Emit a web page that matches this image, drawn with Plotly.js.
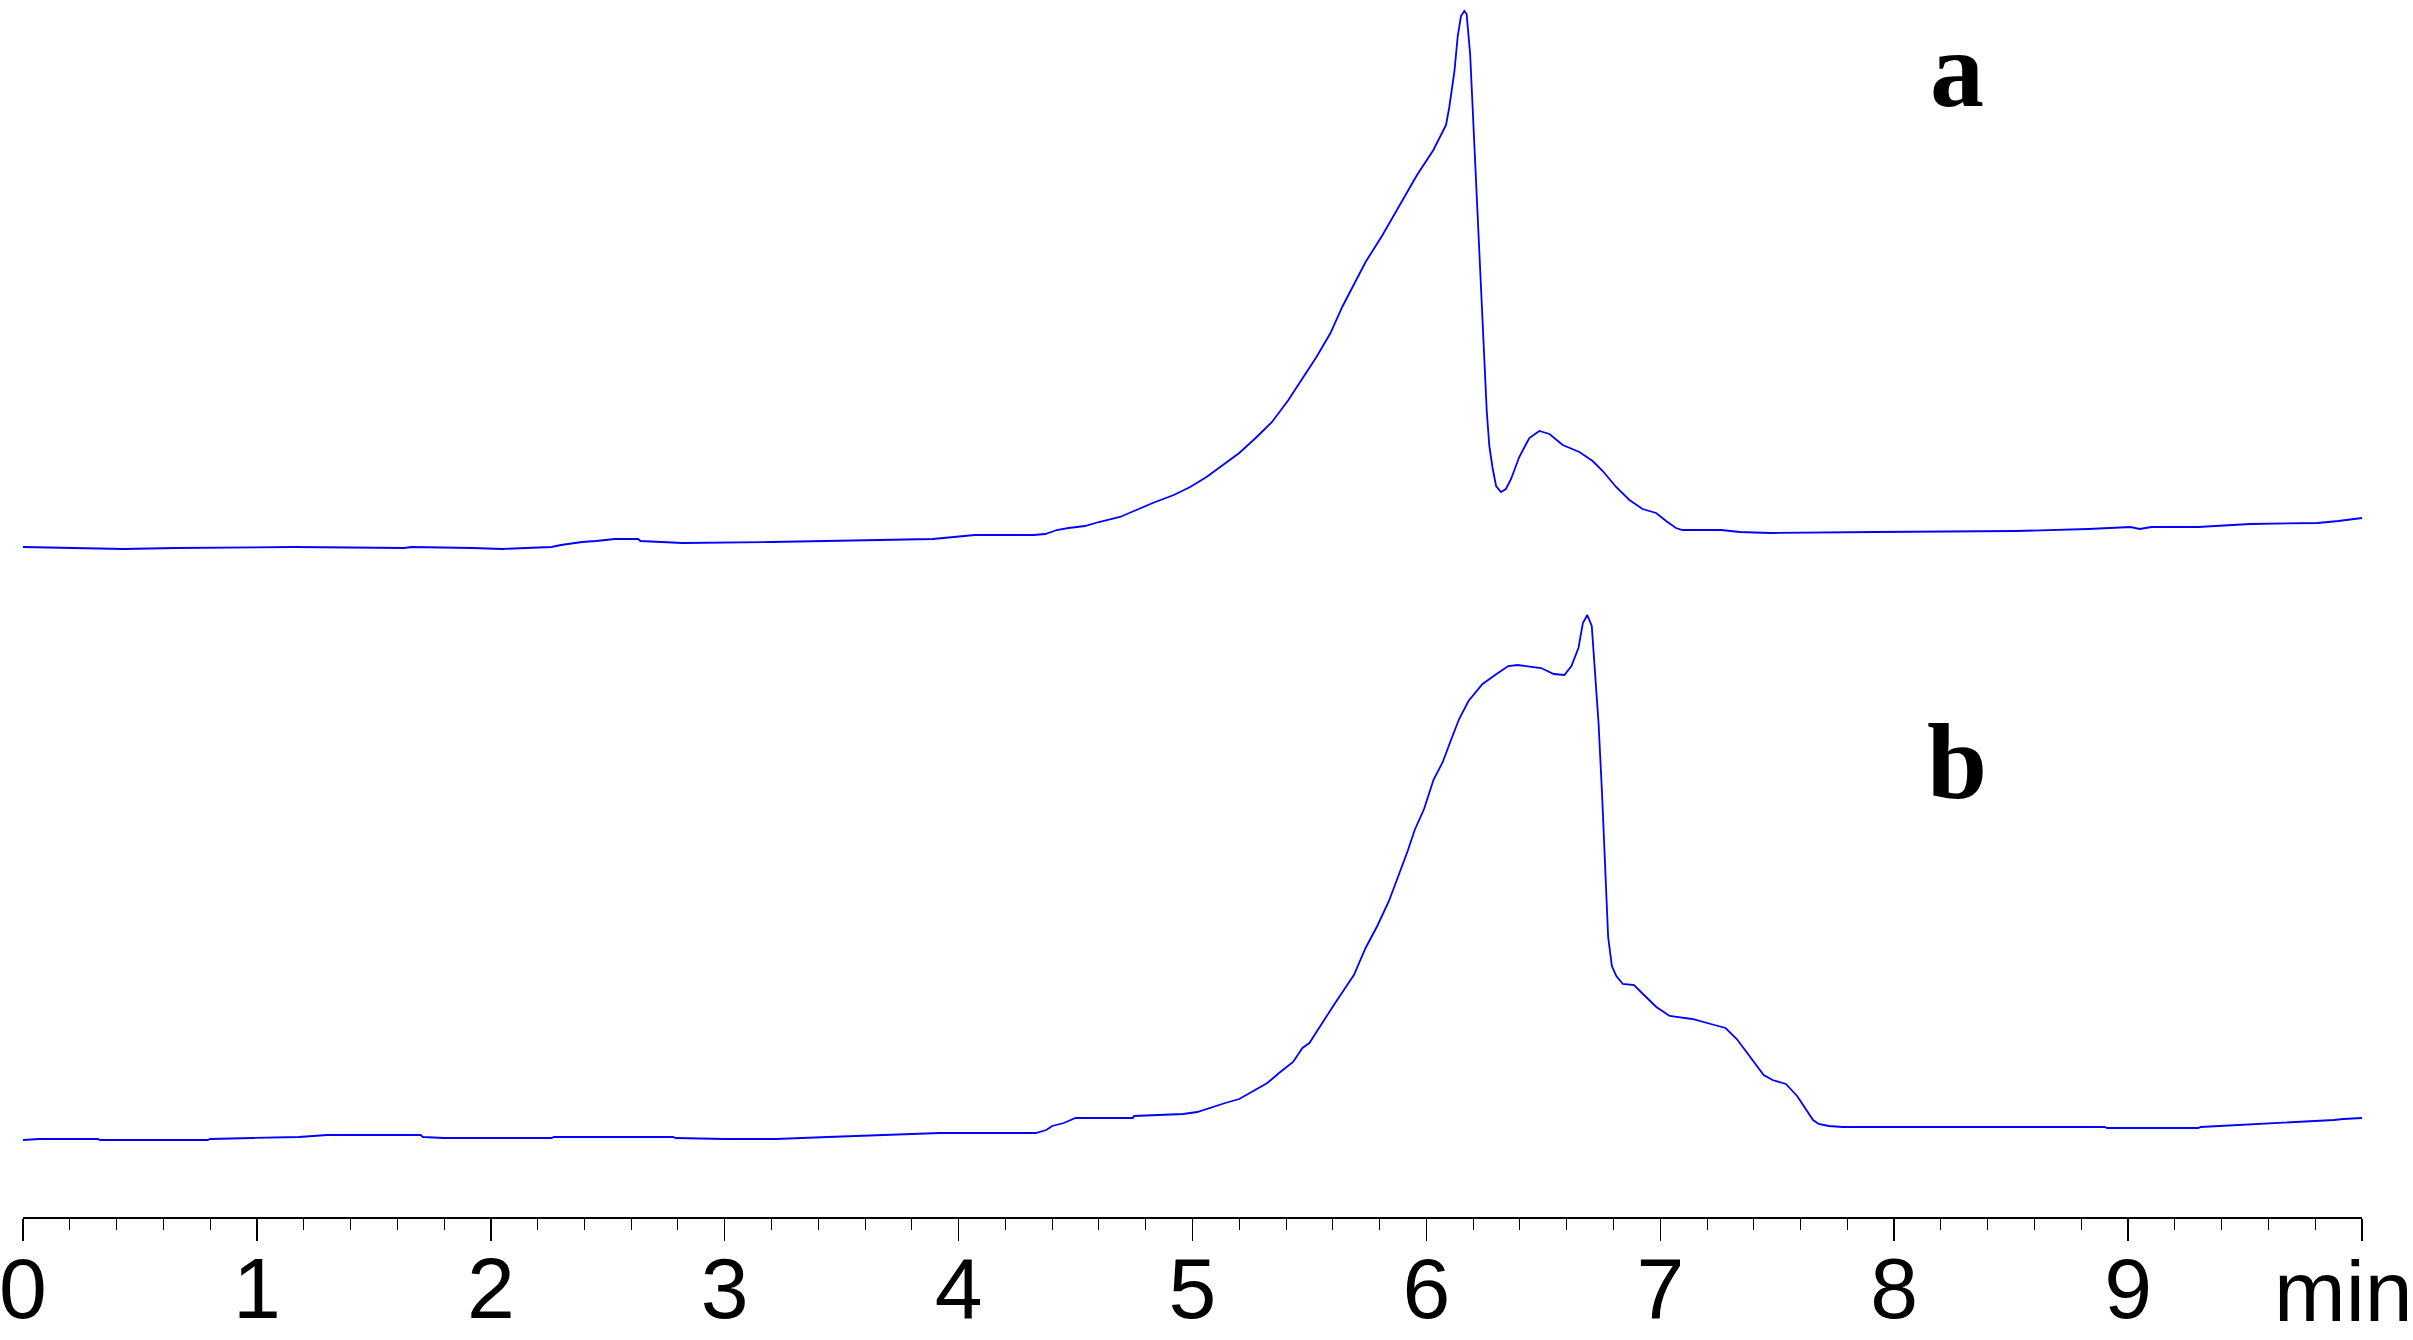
<!DOCTYPE html>
<html>
<head>
<meta charset="utf-8">
<script src="https://cdn.plot.ly/plotly-3.0.1.min.js"></script>
<style>
  html, body { margin: 0; padding: 0; background: #ffffff; }
  #chart { width: 2413px; height: 1340px; }
</style>
</head>
<body>
<div id="chart"></div>
<script>
// retention time (min) and signal for chromatogram a (upper trace, offset)
let time_a = [0.00, 0.23, 0.43, 0.65, 1.16, 1.63, 1.66, 1.92, 2.05, 2.15, 2.26, 2.30, 2.39, 2.45, 2.53, 2.63, 2.64, 2.73, 2.82, 3.20,
  3.77, 3.89, 4.07, 4.32, 4.37, 4.42, 4.47, 4.54, 4.60, 4.69, 4.76, 4.83, 4.92, 4.99, 5.06, 5.13, 5.20, 5.27, 5.34, 5.41,
  5.47, 5.53, 5.59, 5.64, 5.70, 5.74, 5.81, 5.89, 5.96, 6.03, 6.06, 6.084, 6.098, 6.12, 6.134, 6.148, 6.162, 6.172, 6.187, 6.201,
  6.212, 6.226, 6.238, 6.248, 6.258, 6.269, 6.283, 6.298, 6.319, 6.34, 6.362, 6.397, 6.44, 6.483, 6.526, 6.583, 6.654, 6.711, 6.754, 6.811,
  6.868, 6.924, 6.982, 7.025, 7.067, 7.095, 7.26, 7.34, 7.47, 7.92, 8.52, 8.83, 9.01, 9.05, 9.10, 9.30, 9.52, 9.81, 9.90, 10.0];
let signal_a = [67.0, 66.9, 66.8, 66.9, 67.0, 66.9, 67.0, 66.9, 66.8, 66.9, 67.0, 67.2, 67.5, 67.6, 67.8, 67.8, 67.6, 67.5, 67.4, 67.5,
  67.7, 67.8, 68.2, 68.2, 68.3, 68.7, 68.9, 69.1, 69.5, 70.0, 70.7, 71.4, 72.2, 73.0, 74.0, 75.2, 76.4, 77.9, 79.5, 81.7,
  83.9, 86.0, 88.4, 91.0, 93.7, 95.5, 98.1, 101.3, 104.2, 106.7, 108.0, 109.2, 111.0, 114.6, 118.1, 120.1, 120.6, 120.3, 116.3, 109.2,
  103.8, 96.7, 91.3, 86.0, 80.6, 77.1, 74.9, 73.1, 72.5, 72.8, 73.8, 76.0, 77.9, 78.6, 78.3, 77.2, 76.5, 75.6, 74.6, 73.0,
  71.7, 70.8, 70.4, 69.6, 68.9, 68.7, 68.7, 68.5, 68.4, 68.5, 68.6, 68.8, 69.0, 68.8, 69.0, 69.0, 69.3, 69.4, 69.6, 69.9];

// chromatogram b (lower trace)
let time_b = [0.00, 0.07, 0.32, 0.33, 0.79, 0.80, 0.98, 1.18, 1.30, 1.70, 1.71, 1.80, 2.26, 2.27, 2.78, 2.79, 3.00, 3.22, 3.44, 3.66,
  3.79, 3.92, 4.33, 4.375, 4.40, 4.45, 4.50, 4.745, 4.75, 4.89, 4.96, 5.02, 5.07, 5.14, 5.20, 5.26, 5.32, 5.37, 5.43, 5.47,
  5.50, 5.53, 5.57, 5.61, 5.65, 5.69, 5.74, 5.79, 5.84, 5.88, 5.92, 5.95, 5.99, 6.03, 6.07, 6.11, 6.14, 6.18, 6.24, 6.30,
  6.35, 6.39, 6.43, 6.49, 6.545, 6.59, 6.62, 6.65, 6.669, 6.688, 6.707, 6.72, 6.736, 6.751, 6.764, 6.777, 6.793, 6.812, 6.84, 6.888,
  6.926, 6.983, 7.04, 7.136, 7.232, 7.279, 7.327, 7.384, 7.442, 7.48, 7.537, 7.585, 7.61, 7.63, 7.653, 7.677, 7.72, 7.78, 8.90, 8.91,
  9.30, 9.31, 9.48, 9.58, 9.75, 9.82, 9.88, 9.92, 10.0];
let signal_b = [7.7, 7.8, 7.8, 7.7, 7.7, 7.8, 7.9, 8.0, 8.2, 8.2, 8.0, 7.9, 7.9, 8.0, 8.0, 7.9, 7.8, 7.8, 8.0, 8.2,
  8.3, 8.4, 8.4, 8.7, 9.1, 9.4, 9.9, 9.9, 10.1, 10.2, 10.3, 10.5, 10.9, 11.4, 11.8, 12.6, 13.4, 14.4, 15.5, 16.9,
  17.4, 18.5, 20.0, 21.4, 22.8, 24.2, 26.9, 29.1, 31.6, 34.1, 36.6, 38.7, 40.8, 43.7, 45.5, 48.0, 49.8, 51.6, 53.3, 54.3,
  55.1, 55.2, 55.1, 54.9, 54.3, 54.2, 55.1, 56.9, 59.4, 60.2, 59.1, 54.8, 49.4, 42.3, 35.1, 28.0, 25.1, 24.1, 23.3, 23.2,
  22.3, 21.0, 20.1, 19.8, 19.2, 18.9, 17.8, 16.0, 14.2, 13.7, 13.3, 12.1, 11.2, 10.4, 9.7, 9.3, 9.1, 9.0, 9.0, 8.9,
  8.9, 9.0, 9.2, 9.3, 9.5, 9.6, 9.7, 9.8, 9.9];

// x axis ticks
let tick_vals = [0, 1, 2, 3, 4, 5, 6, 7, 8, 9, 10];
let tick_text = ['0', '1', '2', '3', '4', '5', '6', '7', '8', '9', ''];

let div_chart = document.getElementById('chart');

let trace_a = {
  type: 'scatter',
  mode: 'lines',
  name: 'a',
  x: time_a,
  y: signal_a,
  line: {color: '#0000ff', width: 1.8}
};

let trace_b = {
  type: 'scatter',
  mode: 'lines',
  name: 'b',
  x: time_b,
  y: signal_b,
  line: {color: '#0000ff', width: 1.8}
};

let layout = {
  width: 2413,
  height: 1340,
  margin: {l: 23, r: 51, t: 0, b: 123},
  paper_bgcolor: '#ffffff',
  plot_bgcolor: '#ffffff',
  showlegend: false,
  xaxis: {
    range: [0, 10],
    showgrid: false,
    zeroline: false,
    showline: true,
    linecolor: '#000000',
    linewidth: 2,
    ticks: 'outside',
    ticklen: 22,
    tickwidth: 1.5,
    tickcolor: '#000000',
    tickvals: tick_vals,
    ticktext: tick_text,
    ticklabelstandoff: -26,
    ticklabeloverflow: 'allow',
    tickfont: {family: 'Liberation Sans, Arial, sans-serif', size: 86, color: '#000000'},
    minor: {dtick: 0.2, ticks: 'outside', ticklen: 11, tickwidth: 1, tickcolor: '#000000', showgrid: false}
  },
  yaxis: {
    range: [0, 121.7],
    visible: false,
    showgrid: false,
    zeroline: false
  },
  annotations: [
    {
      text: 'min', xref: 'paper', yref: 'paper', x: 1, y: 0,
      xanchor: 'right', yanchor: 'top', xshift: 53, yshift: -24,
      showarrow: false,
      font: {family: 'Liberation Sans, Arial, sans-serif', size: 86, color: '#000000'}
    },
    {
      text: '<b>a</b>', xref: 'x', yref: 'y', x: 8.27, y: 114.8,
      xanchor: 'center', yanchor: 'middle', showarrow: false,
      font: {family: 'Liberation Serif, Times New Roman, serif', size: 108, color: '#000000'}
    },
    {
      text: '<b>b</b>', xref: 'x', yref: 'y', x: 8.27, y: 45.6,
      xanchor: 'center', yanchor: 'middle', showarrow: false,
      font: {family: 'Liberation Serif, Times New Roman, serif', size: 108, color: '#000000'}
    }
  ]
};

let config = {staticPlot: true};

Plotly.newPlot(div_chart, [trace_a, trace_b], layout, config);
</script>
</body>
</html>
